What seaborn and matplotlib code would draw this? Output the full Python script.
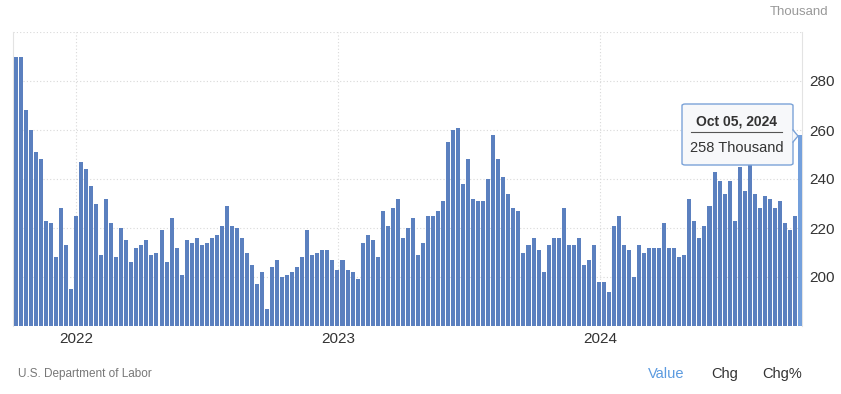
import numpy as np
import pandas as pd
import seaborn as sns
import matplotlib.pyplot as plt
from matplotlib.patches import FancyBboxPatch, Polygon
from matplotlib.lines import Line2D

# weekly initial jobless claims, thousands (week ending dates)
start_week = "2021-10-09"
claims = [
    290, 290, 268, 260, 251, 248, 223, 222, 208, 228, 213, 195, 225, 247, 244, 237,
    230, 209, 232, 222, 208, 220, 215, 206, 212, 213, 215, 209, 210, 219, 206, 224,
    212, 201, 215, 214, 216, 213, 214, 216, 217, 221, 229, 221, 220, 216, 210, 205,
    197, 202, 187, 204, 207, 200, 201, 202, 204, 208, 219, 209, 210, 211, 211, 207,
    203, 207, 203, 202, 199, 214, 217, 215, 208, 227, 221, 228, 232, 216, 220, 224,
    209, 214, 225, 225, 227, 231, 255, 260, 261, 238, 248, 232, 231, 231, 240, 258,
    248, 241, 234, 228, 227, 210, 213, 216, 211, 202, 213, 216, 216, 228, 213, 213,
    216, 205, 207, 213, 198, 198, 194, 221, 225, 213, 211, 200, 213, 210, 212, 212,
    212, 222, 212, 212, 208, 209, 232, 223, 216, 221, 229, 243, 239, 234, 239, 223,
    245, 235, 250, 234, 228, 233, 232, 228, 231, 222, 219, 225, 258,
]
year_labels = ["2022", "2023", "2024"]
y_ticks = [200, 220, 240, 260, 280]

plt.rcParams["font.family"] = ["Liberation Sans", "DejaVu Sans"]

weeks = pd.date_range(start_week, periods=len(claims), freq="7D")
df = pd.DataFrame({"week": np.arange(len(claims)), "claims": claims})

W, H = 841, 394
fig = plt.figure(figsize=(W / 100, H / 100), dpi=100)
ax = fig.add_axes([12.5 / W, 1 - 326 / H, (802 - 12.5) / W, (326 - 32) / H])

bar_color = "#5b80bf"
sns.barplot(data=df, x="week", y="claims", color=bar_color, width=0.8,
            saturation=1, ax=ax, zorder=3)
ax.patches[-1].set_facecolor("#74a0dc")

ax.set_ylim(180, 300)
ax.set_xlim(-0.64, len(claims) - 0.6)

# year ticks placed at Jan 1 of each year
year_pos = [(pd.Timestamp(f"{y}-01-01") - weeks[0]).days / 7 for y in year_labels]
ax.set_xticks(year_pos)
ax.set_xticklabels(year_labels)
ax.set_yticks(y_ticks + [300])
ax.set_yticklabels([str(v) for v in y_ticks] + [""])
ax.yaxis.tick_right()
ax.tick_params(axis="both", length=0, labelsize=11, labelcolor="#333333")
ax.tick_params(axis="y", pad=5)
ax.tick_params(axis="x", pad=4)
ax.set_xlabel("")
ax.set_ylabel("")
ax.grid(True, color="#d9d9d9", linestyle=(0, (1, 2)), linewidth=0.8, zorder=0)
ax.set_axisbelow(True)
for side in ["top", "bottom"]:
    ax.spines[side].set_visible(False)
for side in ["left", "right"]:
    ax.spines[side].set_color("#e3e3e3")
    ax.spines[side].set_linewidth(0.8)

fx = lambda px: px / W
fy = lambda py: 1 - py / H

fig.text(fx(828), fy(12), "Thousand", ha="right", va="center", fontsize=9.5, color="#999999")
fig.text(fx(18), fy(374), "U.S. Department of Labor", ha="left", va="center",
         fontsize=8.5, color="#777777")
fig.text(fx(666), fy(374), "Value", ha="center", va="center", fontsize=10.5, color="#5c9be0")
fig.text(fx(725), fy(374), "Chg", ha="center", va="center", fontsize=10.5, color="#333333")
fig.text(fx(782), fy(374), "Chg%", ha="center", va="center", fontsize=10.5, color="#333333")

# tooltip for the latest week
box = FancyBboxPatch((fx(682), fy(165)), fx(793) - fx(682), fy(104) - fy(165),
                     boxstyle="round,pad=0,rounding_size=0.004", transform=fig.transFigure,
                     facecolor="#f7f8fa", edgecolor="#7ba3d8", linewidth=1, zorder=10)
fig.add_artist(box)
tri = Polygon([(fx(792.5), fy(130)), (fx(798), fy(136)), (fx(792.5), fy(142))],
              closed=True, transform=fig.transFigure, facecolor="#f7f8fa",
              edgecolor="none", zorder=11)
fig.add_artist(tri)
fig.add_artist(Line2D([fx(793), fx(798), fx(793)], [fy(130), fy(136), fy(142)],
                      transform=fig.transFigure, color="#7ba3d8", linewidth=1, zorder=12))
last_date = weeks[-1].strftime("%b %d, %Y")
fig.text(fx(737), fy(122), last_date, ha="center", va="center", fontsize=10,
         fontweight="bold", color="#333333", zorder=13)
fig.add_artist(Line2D([fx(691), fx(782)], [fy(132), fy(132)], transform=fig.transFigure,
                      color="#555555", linewidth=0.8, zorder=13))
fig.text(fx(737), fy(148), f"{claims[-1]} Thousand", ha="center", va="center",
         fontsize=10.5, color="#333333", zorder=13)

fig.savefig("out.png", dpi=100)
